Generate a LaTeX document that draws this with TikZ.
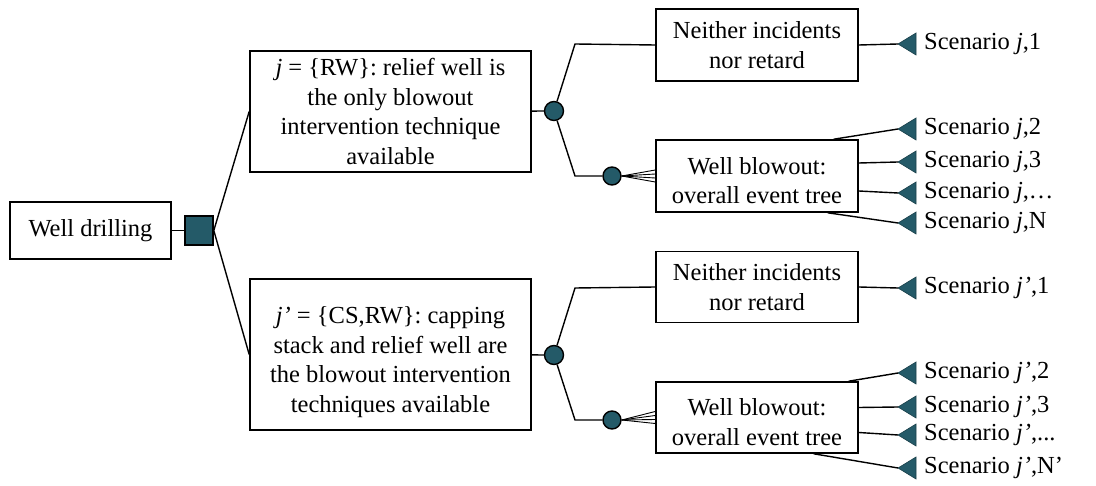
\documentclass[tikz,border=0pt]{standalone}
\usepackage{fontspec}
\setmainfont{Liberation Serif}
\usetikzlibrary{positioning}
\definecolor{evteal}{RGB}{36,90,104}

\begin{document}
\begin{tikzpicture}[x=1pt, y=-1pt,
    box/.style={draw=black, line width=1.6pt, fill=white, align=center, inner sep=0pt, font=\fontsize{24.5}{29.7}\selectfont},
    chance/.style={circle, draw=black, line width=1.4pt, fill=evteal, minimum size=19pt, inner sep=0pt},
    link/.style={black, line width=1.4pt},
    tri/.style={fill=evteal, draw=evteal!70!black, line width=0.6pt},
    lbl/.style={anchor=west, inner sep=0pt, font=\fontsize{24.5}{29.7}\selectfont}]
    \useasboundingbox (0,0) rectangle (1096,486);

    \node[box, minimum width=161pt, minimum height=57pt] (drill) at (90.5,230.5) {Well drilling};
    \node[draw=black, line width=1.6pt, fill=evteal, minimum width=28pt, minimum height=29pt, inner sep=0pt] (dec) at (199,230.5) {};

    \node[box, minimum width=281pt, minimum height=121pt] (rw) at (390.5,111.5) {\textit{j} = \{RW\}: relief well is\\the only blowout\\intervention technique\\available};
    \node[box, minimum width=281pt, minimum height=151pt] (csrw) at (390.5,354.5) {\rule{0pt}{32pt}\textit{j’} = \{CS,RW\}: capping\\stack and relief well are\\the blowout intervention\\techniques available};

    \draw[link] (drill) -- (dec);
    \draw[link] (dec.east) -- (rw.west);
    \draw[link] (dec.east) -- (csrw.west);

    \node[chance] (c1) at (554,111) {};
    \node[chance] (c2) at (554,355) {};
    \node[chance, minimum size=18pt] (b1) at (612,176) {};
    \node[chance, minimum size=18pt] (b2) at (612,420) {};

    \node[box, minimum width=202pt, minimum height=72pt] (n1) at (757,45) {Neither incidents\\nor retard};
    \node[box, minimum width=202pt, minimum height=72pt] (w1) at (757,176) {\rule{0pt}{26pt}Well blowout:\\overall event tree};
    \node[box, minimum width=202pt, minimum height=71pt] (n2) at (757,287) {Neither incidents\\nor retard};
    \node[box, minimum width=202pt, minimum height=71pt] (w2) at (757,417.5) {\rule{0pt}{26pt}Well blowout:\\overall event tree};

    \coordinate (k1) at (575,44);
    \coordinate (k2) at (575,176);
    \coordinate (k3) at (575,288);
    \coordinate (k4) at (575,420);

    \draw[link] (rw) -- (c1);
    \draw[link] (c1) -- (k1) -- (n1.west);
    \draw[link] (c1) -- (k2) -- (b1);
    \draw[link] (csrw) -- (c2);
    \draw[link] (c2) -- (k3) -- (n2.west);
    \draw[link] (c2) -- (k4) -- (b2);

    \foreach \d in {-6,-2,2,6} {
            \draw[link, line width=0.9pt] (b1.east) -- ([yshift=\d pt]w1.west);
            \draw[link, line width=0.9pt] (b2.east) -- ([yshift=\d pt]w2.west);
        }

    \foreach \nm/\ty/\txt in {s11/44/{Scenario \textit{j},1}, s12/129/{Scenario \textit{j},2}, s13/162/{Scenario \textit{j},3}, s14/193/{Scenario \textit{j},…}, s15/223/{Scenario \textit{j},N},
            s21/288/{Scenario \textit{j’},1}, s22/373/{Scenario \textit{j’},2}, s23/407/{Scenario \textit{j’},3}, s24/435/{Scenario \textit{j’},...}, s25/468/{Scenario \textit{j’},N’}} {
            \coordinate (\nm) at (898,\ty);
            \filldraw[tri] (\nm) -- ++(18,-11) -- ++(0,22) -- cycle;
            \node[lbl] (\nm l) at (924,\ty) {\txt};
        }

    \draw[link] (n1.east) -- (s11);
    \draw[link] ([xshift=-25pt]w1.north east) -- (s12);
    \draw[link] ([yshift=13pt]w1.east) -- (s13);
    \draw[link] ([yshift=-15pt]w1.east) -- (s14);
    \draw[link] ([xshift=-31pt]w1.south east) -- (s15);
    \draw[link] (n2.east) -- (s21);
    \draw[link] ([xshift=-10pt]w2.north east) -- (s22);
    \draw[link] ([yshift=10pt]w2.east) -- (s23);
    \draw[link] ([yshift=-15pt]w2.east) -- (s24);
    \draw[link] ([xshift=-45pt]w2.south east) -- (s25);

\end{tikzpicture}
\end{document}
